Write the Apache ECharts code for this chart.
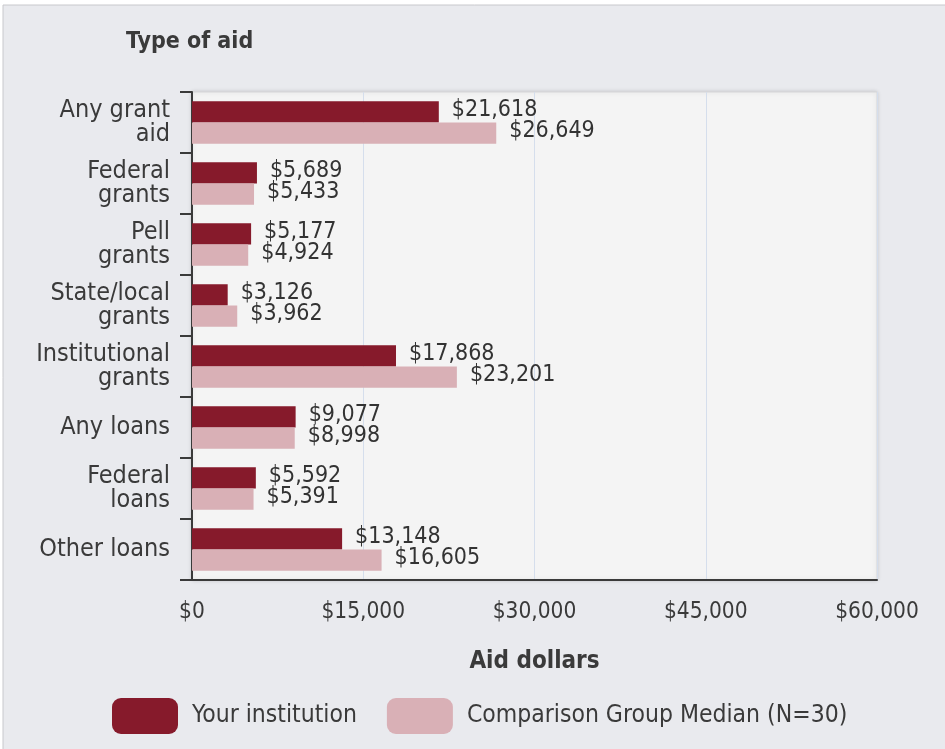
<!DOCTYPE html>
<html style="height: 100%;">
<head>
    <meta charset="utf-8">
    <title>Type of aid</title>
    <script src="https://cdn.jsdelivr.net/npm/echarts@6.0.0/dist/echarts.min.js"></script>
    <style>
        html, body { height: 100%; margin: 0; padding: 0; background: #fff; }
        #main { width: 945px; height: 749px; }
    </style>
</head>
<body>
    <div id="main"></div>
    <script type="text/javascript">
        // data
        var categories = ['Any grant\naid', 'Federal\ngrants', 'Pell\ngrants', 'State/local\ngrants',
            'Institutional\ngrants', 'Any loans', 'Federal\nloans', 'Other loans'];
        var yourInstitution = [21618, 5689, 5177, 3126, 17868, 9077, 5592, 13148];
        var comparisonMedian = [26649, 5433, 4924, 3962, 23201, 8998, 5391, 16605];
        var seriesNames = ['Your institution', 'Comparison Group Median (N=30)'];
        var xTicks = [0, 15000, 30000, 45000, 60000];

        var font = 'DejaVu Sans Condensed';
        var myChart = echarts.init(document.getElementById('main'));

        function money(v) {
            return '$' + v.toLocaleString('en-US');
        }

        var option = {
            backgroundColor: '#fff',
            animation: false,
            textStyle: { fontFamily: font },
            graphic: [{
                type: 'rect',
                shape: { x: 3, y: 5, width: 950, height: 760 },
                style: { fill: '#e9eaee', stroke: '#c8c8cc', lineWidth: 1 },
                z: -10
            }],
            title: {
                text: 'Type of aid',
                left: 121,
                top: 26,
                textStyle: { fontFamily: font, fontSize: 23, fontWeight: 'bold', color: '#3a3a3a' }
            },
            legend: {
                data: seriesNames,
                left: 107,
                top: 693,
                itemWidth: 66,
                itemHeight: 36,
                itemGap: 30,
                icon: 'roundRect',
                textStyle: { fontFamily: font, fontSize: 24.5, color: '#3a3a3a', padding: [0, 0, 0, 9] }
            },
            grid: {
                left: 192,
                right: 68,
                top: 92,
                bottom: 169,
                show: true,
                backgroundColor: '#f4f4f4',
                borderColor: '#d6d6d8',
                borderWidth: 1,
                shadowColor: 'rgba(0,0,0,0.15)',
                shadowBlur: 4
            },
            xAxis: {
                type: 'value',
                min: 0,
                max: 60000,
                interval: 15000,
                name: 'Aid dollars',
                nameLocation: 'middle',
                nameGap: 70,
                nameTextStyle: { fontFamily: font, fontSize: 24, fontWeight: 'bold', color: '#3a3a3a' },
                axisLine: { show: true, lineStyle: { color: '#3a3a3a', width: 2 } },
                axisTick: { show: false },
                splitLine: { lineStyle: { color: '#d5deec', width: 1 } },
                axisLabel: {
                    margin: 21,
                    fontFamily: font,
                    fontSize: 22.5,
                    color: '#3a3a3a',
                    formatter: function (v) { return xTicks.indexOf(v) >= 0 ? money(v) : ''; }
                }
            },
            yAxis: {
                type: 'category',
                inverse: true,
                data: categories,
                axisLine: { show: true, lineStyle: { color: '#3a3a3a', width: 2 } },
                axisTick: { show: true, length: 12, lineStyle: { color: '#3a3a3a', width: 2 } },
                axisLabel: {
                    margin: 22,
                    fontFamily: font,
                    fontSize: 25,
                    lineHeight: 24,
                    color: '#3a3a3a',
                    align: 'right'
                }
            },
            series: [{
                name: seriesNames[0],
                type: 'bar',
                data: yourInstitution,
                barGap: '0%',
                barCategoryGap: '30%',
                itemStyle: { color: '#861a2b' },
                label: {
                    show: true,
                    position: 'right',
                    distance: 13,
                    offset: [0, -2],
                    fontFamily: font,
                    fontSize: 23,
                    color: '#333',
                    formatter: function (p) { return money(p.value); }
                }
            }, {
                name: seriesNames[1],
                type: 'bar',
                data: comparisonMedian,
                barGap: '0%',
                barCategoryGap: '30%',
                itemStyle: { color: '#d9b0b6' },
                label: {
                    show: true,
                    position: 'right',
                    distance: 13,
                    offset: [0, -2],
                    fontFamily: font,
                    fontSize: 23,
                    color: '#333',
                    formatter: function (p) { return money(p.value); }
                }
            }]
        };

        myChart.setOption(option);
    </script>
</body>
</html>
